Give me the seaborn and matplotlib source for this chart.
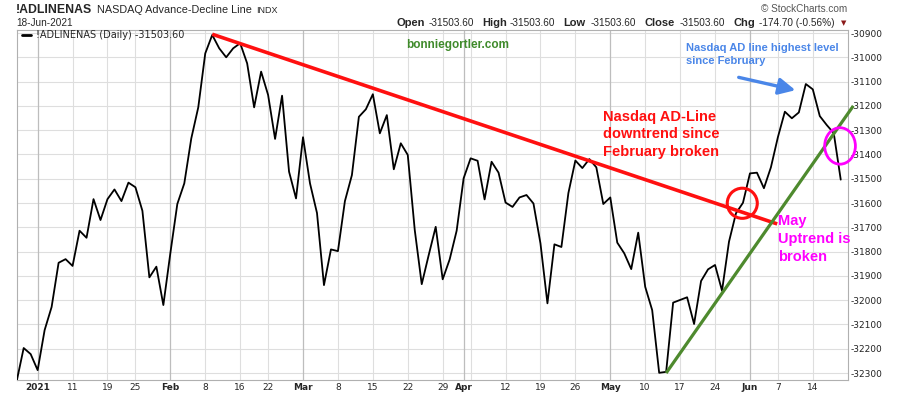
import numpy as np
import pandas as pd
import seaborn as sns
import matplotlib.pyplot as plt
from matplotlib.patches import Ellipse

# trading-day closes, Dec 29 2020 .. Jun 18 2021
ad_values = [
    -32333, -32197, -32222,
    -32288, -32123, -32028, -31846, -31831, -31859, -31714, -31743, -31584, -31670,
    -31584, -31544, -31592, -31516, -31535, -31632, -31906, -31862, -32020,
    -31807, -31604, -31519, -31334, -31206, -30984, -30908, -30963, -31000, -30963,
    -30942, -31025, -31206, -31059, -31155, -31336, -31158, -31471, -31581,
    -31329, -31519, -31641, -31938, -31791, -31798, -31592, -31485, -31245, -31214,
    -31152, -31313, -31238, -31461, -31354, -31402, -31711, -31934, -31814, -31698,
    -31914, -31832, -31714,
    -31498, -31416, -31426, -31585, -31430, -31475, -31598, -31616, -31577, -31567,
    -31602, -31766, -32013, -31770, -31781, -31559, -31425, -31456, -31419, -31453,
    -31604, -31577, -31763, -31807, -31872, -31722, -31945, -32041, -32299, -32295,
    -32010, -31999, -31988, -32098, -31921, -31873, -31855, -31961, -31759, -31642,
    -31599, -31478, -31475, -31539, -31453, -31329, -31224, -31251, -31227, -31110,
    -31132, -31242, -31279, -31312, -31503.6,
]
holidays = ["2021-01-01", "2021-01-18", "2021-02-15", "2021-04-02", "2021-05-31"]

tick_dates = ["2021-01-04", "2021-01-11", "2021-01-19", "2021-01-25", "2021-02-01",
              "2021-02-08", "2021-02-16", "2021-02-22", "2021-03-01", "2021-03-08",
              "2021-03-15", "2021-03-22", "2021-03-29", "2021-04-01", "2021-04-05",
              "2021-04-12", "2021-04-19", "2021-04-26", "2021-05-03", "2021-05-10",
              "2021-05-17", "2021-05-24", "2021-06-01", "2021-06-07", "2021-06-14"]
tick_labels = ["2021", "11", "19", "25", "Feb", "8", "16", "22", "Mar", "8", "15", "22",
               "29", "Apr", "", "12", "19", "26", "May", "10", "17", "24", "Jun", "7", "14"]
month_labels = {"2021", "Feb", "Mar", "Apr", "May", "Jun"}

# drawn trend lines: (trading day, value)
downtrend = [(25, -30905), (105.9, -31686)]
uptrend = [(90.0, -32300), (116.8, -31200)]

days = pd.bdate_range("2020-12-29", "2021-06-18")
days = days[~days.isin(pd.to_datetime(holidays))]
pos = np.arange(len(days)) - 3  # Jan 4 = 0
df = pd.DataFrame({"pos": pos, "value": ad_values})

sns.set_style("white")
plt.rcParams["font.family"] = ["DejaVu Sans"]
plt.rcParams["axes.unicode_minus"] = False

fig = plt.figure(figsize=(9, 3.96), dpi=100)
ax = fig.add_axes([16.7 / 900, 1 - 380 / 396, (848 - 16.7) / 900, 350 / 396])

# grid
ax.set_ylim(-32328.6, -30887.6)
ax.set_xlim(-2.71, 116.04)
for v in range(-32300, -30899, 100):
    ax.axhline(v, color="#dedede", lw=0.8, zorder=0)
day_index = {d.strftime("%Y-%m-%d"): p for d, p in zip(days, pos)}
tick_pos = [day_index[d] for d in tick_dates]
for p, lab in zip(tick_pos, tick_labels):
    strong = lab in month_labels
    ax.axvline(p, color="#bdbdbd" if strong else "#dedede", lw=0.9 if strong else 0.8, zorder=0)

sns.lineplot(data=df, x="pos", y="value", color="black", lw=1.3, ax=ax, zorder=3)

ax.plot(*zip(*downtrend), color="#ff1010", lw=2.6, zorder=4, solid_capstyle="butt")
ax.plot(*zip(*uptrend), color="#4e8a2e", lw=2.3, zorder=4, clip_on=False,
        solid_capstyle="butt")

ax.add_patch(Ellipse((100.9, -31601), 4.3, 124, fill=False, ec="#ff1010", lw=2.2, zorder=5))
ax.add_patch(Ellipse((114.9, -31365), 4.4, 150, fill=False, ec="#ff00ff", lw=2.0,
                     zorder=5, clip_on=False))

ax.annotate("", xy=(108.9, -31138), xytext=(100.0, -31080),
            arrowprops=dict(arrowstyle="-|>,head_length=1.0,head_width=0.5",
                            color="#4a86e8", lw=2.4), zorder=5)

ax.text(81.0, -31215, "Nasdaq AD-Line\ndowntrend since\nFebruary broken", color="#ff1010",
        fontsize=10.5, fontweight="bold", family="Liberation Sans", va="top", linespacing=1.35)
ax.text(106.0, -31645, "May\nUptrend is\nbroken", color="#ff00ff", fontsize=10.5,
        fontweight="bold", family="Liberation Sans", va="top", linespacing=1.35)
ax.text(92.9, -30943, "Nasdaq AD line highest level\nsince February", color="#4a86e8",
        fontsize=8, fontweight="bold", family="Liberation Sans", va="top", linespacing=1.35)
ax.text(60.2, -30948, "bonniegortler.com", color="#3f8a2b", fontsize=8.5,
        fontweight="bold", family="Liberation Sans", ha="center", va="center")

# legend-style label
ax.plot([-2.3, -1.0], [-30910, -30910], color="black", lw=2, clip_on=False)
ax.text(-0.3, -30910, "!ADLINENAS (Daily) -31503.60", fontsize=7, va="center")

# axes
ax.set_xlabel("")
ax.set_ylabel("")
ax.yaxis.tick_right()
ax.set_yticks(range(-32300, -30899, 100))
ax.set_yticklabels([str(v) for v in range(-32300, -30899, 100)])
ax.tick_params(axis="y", length=0, pad=2, labelsize=6.5, colors="#222222")
ax.set_xticks(tick_pos)
ax.set_xticklabels(tick_labels)
ax.set_xticks(pos, minor=True)
ax.tick_params(axis="x", which="major", length=0, pad=2, labelsize=6.5)
ax.tick_params(axis="x", which="minor", length=2, direction="in", color="#bbbbbb")
for t in ax.get_xticklabels():
    if t.get_text() in month_labels:
        t.set_fontweight("bold")
for s in ax.spines.values():
    s.set_color("#b0b0b0")
    s.set_linewidth(0.8)
if ax.get_legend():
    ax.get_legend().remove()

# header
def px(x, y):
    return x / 900, 1 - y / 396

fig.text(*px(16, 10), "!ADLINENAS", fontsize=8.8, fontweight="bold",
         family="Liberation Sans", va="center")
fig.text(*px(97, 10), "NASDAQ Advance-Decline Line", fontsize=7.8,
         family="Liberation Sans", va="center")
fig.text(*px(256, 10.5), "INDX", fontsize=6.5, family="Liberation Sans", va="center")
fig.text(*px(16, 23), "18-Jun-2021", fontsize=7.2, family="Liberation Sans", va="center")
fig.text(*px(847, 9), "\u00a9 StockCharts.com", fontsize=7.2, color="#555555",
         family="Liberation Sans", ha="right", va="center")

header = [("Open", 396.7, True), ("-31503.60", 428.3, False), ("High", 482.3, True),
          ("-31503.60", 510, False), ("Low", 563.3, True), ("-31503.60", 591, False),
          ("Close", 644.7, True), ("-31503.60", 679.3, False), ("Chg", 733.7, True),
          ("-174.70 (-0.56%)", 759.3, False)]
for txt, x, bold in header:
    fig.text(*px(x, 23), txt, fontsize=8 if bold else 7.2,
             fontweight="bold" if bold else "normal", family="Liberation Sans", va="center")
fig.text(*px(844, 23), "\u25bc", fontsize=5, color="#8b1a1a", ha="center", va="center")

fig.savefig("out.png", dpi=100)
